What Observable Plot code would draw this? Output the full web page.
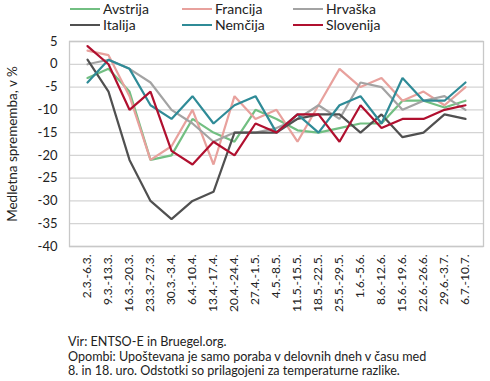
<!DOCTYPE html>
<html>
<head>
<meta charset="utf-8">
<script src="https://cdn.jsdelivr.net/npm/d3@7"></script>
<script src="https://cdn.jsdelivr.net/npm/@observablehq/plot@0.6"></script>
<style>
  html, body { margin: 0; padding: 0; background: #fff; }
  body { width: 490px; height: 381px; overflow: hidden; font-family: Lato, "Open Sans", sans-serif; color: #222; }
  #legend { position: relative; height: 34px; }
  .item { position: absolute; display: flex; align-items: center; font-size: 14px; line-height: 16px; }
  .sw { width: 30px; height: 0; border-top: 2.5px solid; margin-right: 3px; }
  #caption { margin: 19px 0 0 68px; font-size: 12.6px; line-height: 14.5px; color: #222; }
</style>
</head>
<body>
<div id="legend"></div>
<div id="chart"></div>
<div id="caption">Vir: ENTSO-E in Bruegel.org.<br>Opombi: Upoštevana je samo poraba v delovnih dneh v času med<br>8. in 18. uro. Odstotki so prilagojeni za temperaturne razlike.</div>
<script>
const categories = ["2.3.-6.3.","9.3.-13.3.","16.3.-20.3.","23.3.-27.3.","30.3.-3.4.","6.4.-10.4.","13.4.-17.4.","20.4.-24.4.","27.4.-1.5.","4.5.-8.5.","11.5.-15.5.","18.5.-22.5.","25.5.-29.5.","1.6.-5.6.","8.6.-12.6.","15.6.-19.6.","22.6.-26.6.","29.6.-3.7.","6.7.-10.7."];
const seriesNames = ["Avstrija","Francija","Hrvaška","Italija","Nemčija","Slovenija"];
const seriesColors = ["#72bf82","#e8a19d","#a3a3a3","#505050","#2f8b97","#b0102f"];
const avstrija  = [-3, -1, -6, -21, -20, -12, -15, -17, -10, -12, -14.5, -15, -14, -13, -13, -8, -8, -9.5, -8];
const francija  = [3, 2, -7, -21, -18, -10, -22, -7, -12, -10, -17, -9, -1, -5, -3, -8, -6, -9, -5];
const hrvaska   = [0, 1, -1, -4, -10, -13, -17, -15, -15, -14, -12, -9, -12, -4, -5, -10, -8, -7, -10];
const italija   = [1, -6, -21, -30, -34, -30, -28, -15, -15, -15, -12, -11, -11, -15, -11, -16, -15, -11, -12];
const nemcija   = [-4, 1, -1, -9, -12, -7, -13, -9, -7, -15, -11, -15, -9, -7, -13, -3, -8, -8, -4];
const slovenija = [4, 0, -10, -6, -19, -22, -17, -20, -13, -15, -11, -11, -17, -9, -14, -12, -12, -10, -9];
const yTicks = [5, 0, -5, -10, -15, -20, -25, -30, -35, -40];
const yTitle = "Medletna sprememba, v %";

const valuesBySeries = [avstrija, francija, hrvaska, italija, nemcija, slovenija];
const data = [];
seriesNames.forEach((s, k) => valuesBySeries[k].forEach((v, i) => data.push({series: s, cat: categories[i], value: v})));

// legend
const legend = document.getElementById("legend");
const colX = [70, 182, 293];
seriesNames.forEach((s, k) => {
  const d = document.createElement("div");
  d.className = "item";
  d.style.left = colX[k % 3] + "px";
  d.style.top = (1 + Math.floor(k / 3) * 16) + "px";
  d.innerHTML = `<span class="sw" style="border-color:${seriesColors[k]}"></span><span>${s}</span>`;
  legend.appendChild(d);
});

const chart = Plot.plot({
  width: 490,
  height: 282,
  marginTop: 7,
  marginBottom: 70,
  marginLeft: 69,
  marginRight: 7,
  style: {fontFamily: "Lato, 'Open Sans', sans-serif", fontSize: "12.5px", color: "#222", background: "white"},
  x: {type: "point", domain: categories, padding: 0.5},
  y: {domain: [-40, 5], ticks: yTicks},
  color: {domain: seriesNames, range: seriesColors},
  marks: [
    Plot.ruleY(yTicks, {stroke: "#d4d4d4", strokeWidth: 1.3}),
    Plot.frame({stroke: "#c8c8c8", strokeWidth: 1.3}),
    Plot.axisY(yTicks, {tickSize: 0, tickPadding: 12, tickFormat: d => String(d), label: null, fontSize: 13}),
    Plot.axisX({tickSize: 0, tickPadding: 8, tickRotate: -90, label: null, fontSize: 12}),
    Plot.text([yTitle], {text: d => d, frameAnchor: "left", textAnchor: "middle", rotate: -90, dx: -57, fontSize: 13.5}),
    Plot.line(data, {x: "cat", y: "value", z: "series", stroke: "series", strokeWidth: 2.2, strokeLinejoin: "miter"})
  ]
});
document.getElementById("chart").appendChild(chart);
</script>
</body>
</html>
